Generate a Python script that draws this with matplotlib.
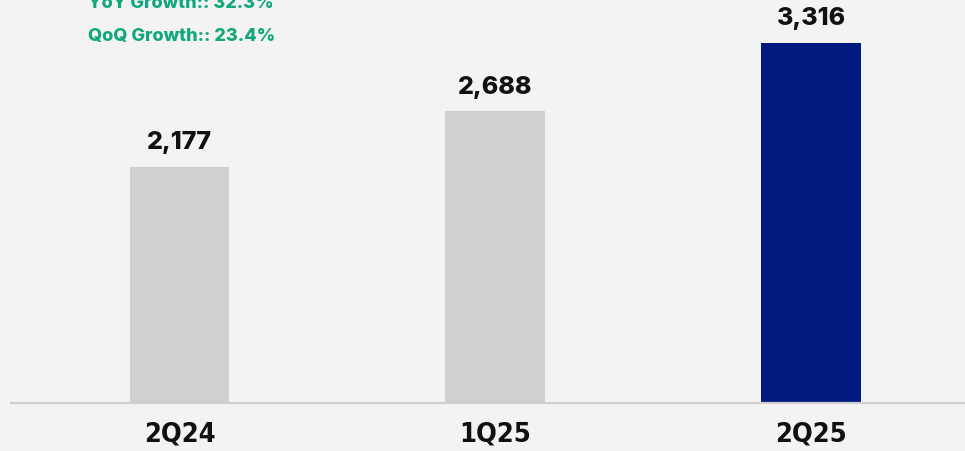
import matplotlib.pyplot as plt

quarters = ['2Q24', '1Q25', '2Q25']
revenue = [2177, 2688, 3316]
bar_colors = ['#d0d0d0', '#d0d0d0', '#001a7d']
growth_lines = ['YoY Growth:: 32.3%', 'QoQ Growth:: 23.4%']

W, H = 965, 451
fig = plt.figure(figsize=(W / 100, H / 100), dpi=100)
fig.patch.set_facecolor('#f3f3f3')

# axes: baseline at y=403px, left edge at x=11px
ax = fig.add_axes([11 / W, (H - 403) / H, 1 - 11 / W, 403 / H])
ax.set_facecolor('none')

x = range(len(quarters))
ax.bar(x, revenue, width=0.316, color=bar_colors, zorder=2)
ax.set_xlim(-0.534, 2.488)
ax.set_ylim(0, 3714)

for i, v in enumerate(revenue):
    ax.annotate(f'{v:,}', (i, v), xytext=(0, 17.5), textcoords='offset points',
                ha='center', va='center', fontsize=18, fontweight='heavy',
                family=['Inter', 'DejaVu Sans'], color='#111111')

for s in ['top', 'right', 'left']:
    ax.spines[s].set_visible(False)
ax.spines['bottom'].set_color('#cfcfcf')
ax.spines['bottom'].set_linewidth(1.6)
ax.set_yticks([])
ax.set_xticks(list(x))
ax.set_xticklabels(quarters, fontsize=19.5, fontweight='bold', fontstretch='condensed',
                   family=['DejaVu Sans'], color='#111111')
ax.tick_params(axis='x', length=0, pad=13)

for j, t in enumerate(growth_lines):
    fig.text(88 / W, (H - 3 - 34 * j) / H, t, ha='left', va='center',
             fontsize=13, fontweight='heavy', family=['Inter', 'DejaVu Sans'],
             color='#12a77b')

fig.savefig('out.png', dpi=100, facecolor=fig.get_facecolor())
